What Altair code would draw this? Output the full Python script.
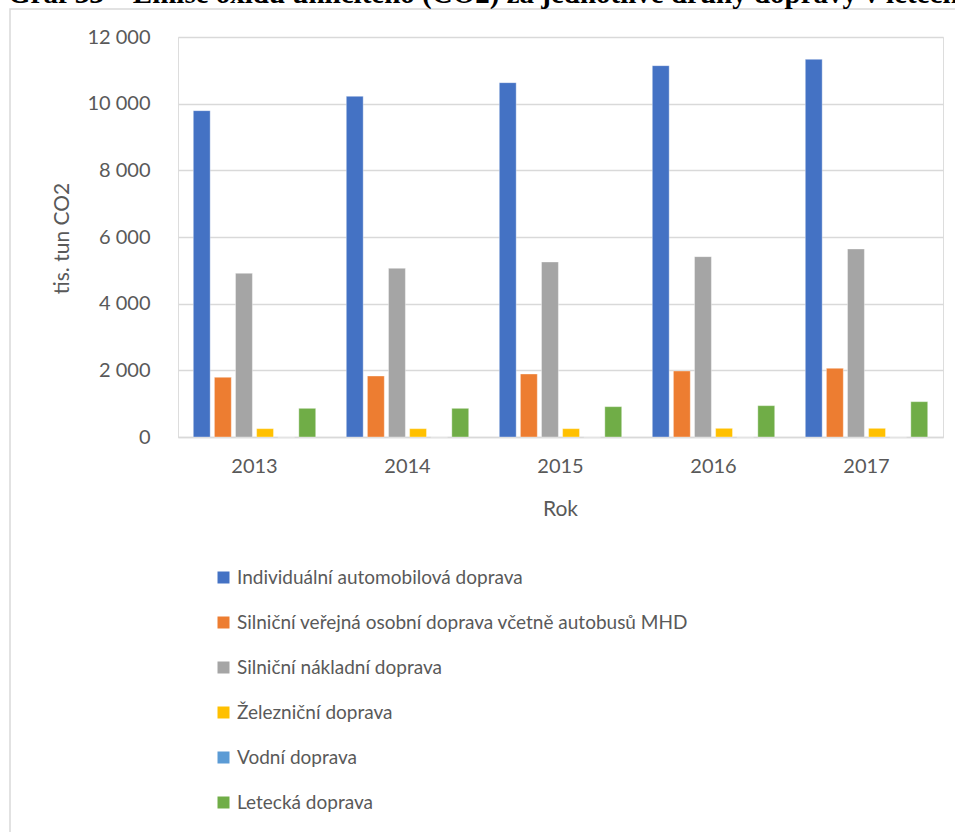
import altair as alt
import pandas as pd

years = ["2013", "2014", "2015", "2016", "2017"]
series = [
    "Individuální automobilová doprava",
    "Silniční veřejná osobní doprava včetně autobusů MHD",
    "Silniční nákladní doprava",
    "Železniční doprava",
    "Vodní doprava",
    "Letecká doprava",
]
colors = ["#4472C4", "#ED7D31", "#A5A5A5", "#FFC000", "#5B9BD5", "#70AD47"]

individualni = [9790, 10220, 10630, 11140, 11330]
verejna = [1790, 1830, 1890, 1980, 2060]
nakladni = [4910, 5060, 5250, 5410, 5640]
zeleznicni = [250, 250, 250, 260, 260]
vodni = [0, 0, 0, 0, 0]
letecka = [860, 860, 910, 940, 1060]

values = [individualni, verejna, nakladni, zeleznicni, vodni, letecka]
rows = []
for s, vals in zip(series, values):
    for y, v in zip(years, vals):
        rows.append({"Rok": y, "Druh": s, "Hodnota": v})
df = pd.DataFrame(rows)

FONT = "Lato"
GREY = "#595959"

bars = alt.Chart(df).mark_bar(stroke="white", strokeWidth=0.6, strokeOpacity=0.6).encode(
    x=alt.X("Rok:N", sort=years,
            scale=alt.Scale(paddingInner=0.2, paddingOuter=0.1),
            axis=alt.Axis(title="Rok", labelAngle=0, ticks=False, domain=True,
                          domainColor="#D9D9D9", domainWidth=1.5,
                          labelFontSize=20, labelColor=GREY, labelFont=FONT,
                          labelPadding=19, titleFontSize=21, titleColor=GREY,
                          titleFont=FONT, titleFontWeight="normal",
                          titleX=382, titleY=78, titleBaseline="alphabetic")),
    xOffset=alt.XOffset("Druh:N", sort=series,
                        scale=alt.Scale(paddingInner=0.2, paddingOuter=0)),
    y=alt.Y("Hodnota:Q",
            scale=alt.Scale(domain=[0, 12000], nice=False),
            axis=alt.Axis(title="tis. tun CO2", values=[0, 2000, 4000, 6000, 8000, 10000, 12000],
                          labelExpr="datum.value >= 1000 ? floor(datum.value/1000) + ' 000' : '0'",
                          ticks=False, domain=False, gridColor="#D9D9D9", gridWidth=1.5,
                          labelFontSize=20, labelColor=GREY, labelFont=FONT, labelPadding=28,
                          titleFontSize=21, titleColor=GREY, titleFont=FONT,
                          titleFontWeight="normal", titleX=-110, titleY=201,
                          titleBaseline="alphabetic", titleAngle=-90, titleAlign="center")),
    color=alt.Color("Druh:N", sort=series,
                    scale=alt.Scale(domain=series, range=colors),
                    legend=alt.Legend(title=None, orient="none", legendX=36, legendY=531,
                                      direction="vertical", symbolType="square",
                                      symbolSize=144, symbolStrokeWidth=0,
                                      labelFontSize=19, labelColor=GREY, labelFont=FONT,
                                      labelOffset=4, rowPadding=25, padding=0,
                                      labelLimit=700)),
)

frame = alt.Chart(pd.DataFrame({"k": [0]})).mark_rect(
    fill=None, stroke="#D9D9D9", strokeWidth=1.5
).encode(x=alt.value(-168), x2=alt.value(800), y=alt.value(-28), y2=alt.value(820))

title_df = pd.DataFrame({"t": ["Graf 33 – Emise oxidu uhličitého (CO2) za jednotlivé druhy dopravy v letech 2013–2017"]})
title = alt.Chart(title_df).mark_text(
    font="Liberation Serif", fontSize=29, fontWeight="bold", align="left",
    baseline="alphabetic", color="black"
).encode(text="t:N", x=alt.value(-170), y=alt.value(-34))

chart = alt.layer(frame, bars, title).properties(
    width=765, height=400,
    autosize=alt.AutoSizeParams(type="none"),
    padding={"left": 178, "top": 37, "right": 12, "bottom": 395},
).configure_view(stroke=None).configure(background="white")

chart.save("out.html", embed_options={"renderer": "svg", "actions": False})
